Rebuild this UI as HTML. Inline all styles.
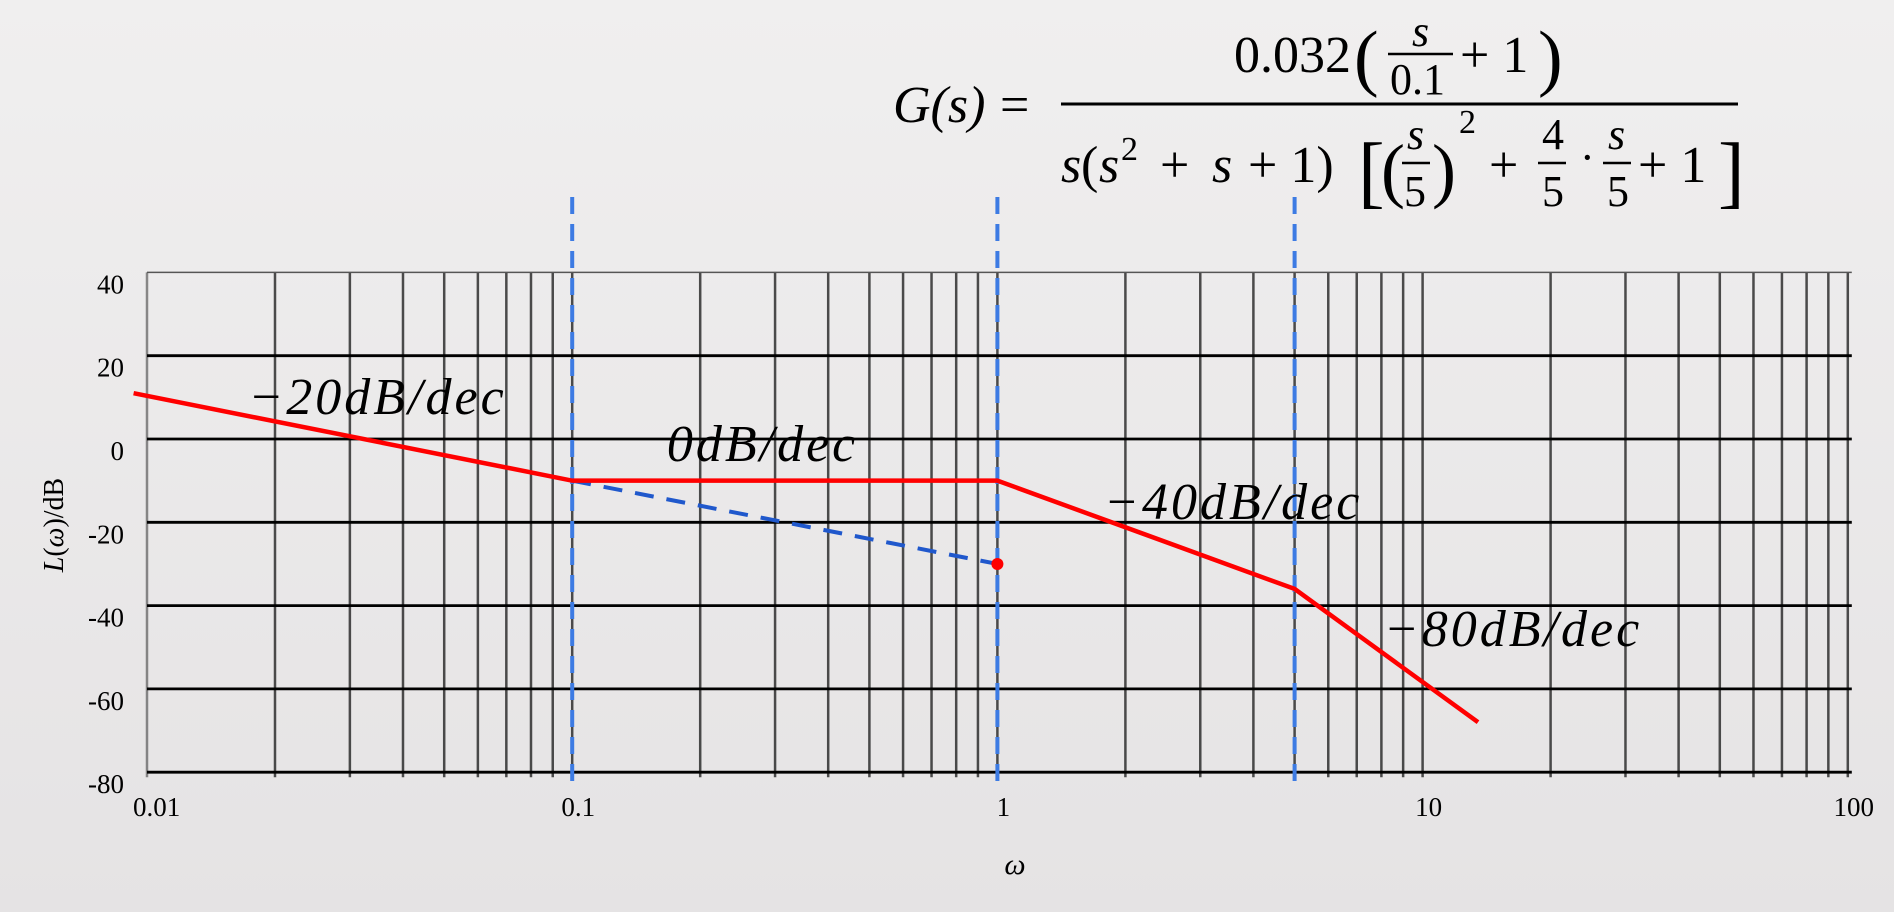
<!DOCTYPE html>
<html><head><meta charset="utf-8">
<style>
html,body{margin:0;padding:0;}
body{width:1894px;height:912px;overflow:hidden;background:linear-gradient(#f0efef,#e5e3e4);}
svg{position:absolute;left:0;top:0;}
.m{font-family:"Liberation Serif",serif;font-style:italic;fill:#000;}
.r{font-family:"Liberation Serif",serif;fill:#000;}
</style></head>
<body>
<svg id="chart" width="1894" height="912">
  <g id="formula">
    <text class="m" x="893" y="122" font-size="52">G(s)</text>
    <text class="r" x="1000" y="122" font-size="52">=</text>
    <line x1="1061" y1="104" x2="1738" y2="104" stroke="#000" stroke-width="3"/>
    <text class="r" x="1234" y="72" font-size="52">0.032</text>
    <text class="r" x="1354" y="82" font-size="74">(</text>
    <text class="m" x="1412" y="46" font-size="44">s</text>
    <line x1="1388" y1="54" x2="1453" y2="54" stroke="#000" stroke-width="2.5"/>
    <text class="r" x="1390" y="94" font-size="44">0.1</text>
    <text class="r" x="1460" y="72" font-size="52">+ 1</text>
    <text class="r" x="1538" y="82" font-size="74">)</text>
    <text class="m" x="1061" y="182" font-size="52">s</text>
    <text class="r" x="1081" y="182" font-size="52">(</text>
    <text class="m" x="1099" y="182" font-size="52">s</text>
    <text class="r" x="1121" y="160" font-size="34">2</text>
    <text class="r" x="1160" y="182" font-size="52">+</text>
    <text class="m" x="1212" y="182" font-size="52">s</text>
    <text class="r" x="1248" y="182" font-size="52">+ 1)</text>
    <text class="r" x="1358" y="198" font-size="80">[</text>
    <text class="r" x="1381" y="194" font-size="72">(</text>
    <text class="m" x="1407" y="149" font-size="44">s</text>
    <line x1="1402" y1="163" x2="1430" y2="163" stroke="#000" stroke-width="2.5"/>
    <text class="r" x="1404" y="206" font-size="44">5</text>
    <text class="r" x="1432" y="194" font-size="72">)</text>
    <text class="r" x="1459" y="133" font-size="34">2</text>
    <text class="r" x="1489" y="182" font-size="52">+</text>
    <text class="r" x="1542" y="149" font-size="44">4</text>
    <line x1="1538" y1="163" x2="1566" y2="163" stroke="#000" stroke-width="2.5"/>
    <text class="r" x="1542" y="206" font-size="44">5</text>
    <text class="r" x="1580" y="172" font-size="44">·</text>
    <text class="m" x="1608" y="149" font-size="44">s</text>
    <line x1="1603" y1="163" x2="1631" y2="163" stroke="#000" stroke-width="2.5"/>
    <text class="r" x="1607" y="206" font-size="44">5</text>
    <text class="r" x="1638" y="182" font-size="52">+ 1</text>
    <text class="r" x="1718" y="198" font-size="80">]</text>
  </g>
  <g id="grid"></g>
  <g id="marks"></g>
  <g id="labels"></g>
</svg>
<script>
const decades = [0.01, 0.1, 1, 10, 100];
const xTickLabels = ["0.01", "0.1", "1", "10", "100"];
const yTicks = [40, 20, 0, -20, -40, -60, -80];
const yTickLabels = ["40", "20", "0", "-20", "-40", "-60", "-80"];
const asymptoteW = [0.0093, 0.1, 1, 5, 13.5];
const asymptoteDB = [11, -10, -10, -36, -68];
const dashedW = [0.1, 1];
const dashedDB = [-10, -30];
const breakFreqs = [0.1, 1, 5];
const slopeLabels = ["−20dB/dec", "0dB/dec", "−40dB/dec", "−80dB/dec"];
const slopeLabelW = [0.0173, 0.167, 1.78, 8.1];
const slopeLabelDB = [6, -5.3, -19.2, -49.7];

const NS = "http://www.w3.org/2000/svg";
const X0 = 147, DEC = 425.2, Y0 = 439, PERDB = 83.3 / 20;
function xs(w){ return X0 + (Math.log10(w) + 2) * DEC; }
function ys(d){ return Y0 - d * PERDB; }
function mk(tag, attrs, parent){ const e = document.createElementNS(NS, tag); for (const k in attrs) e.setAttribute(k, attrs[k]); parent.appendChild(e); return e; }
const gridG = document.getElementById('grid'), marksG = document.getElementById('marks'), labelsG = document.getElementById('labels');
const yTop = ys(40), yBot = ys(-80);

for (let d = 0; d < decades.length - 1; d++) {
  for (let k = 1; k <= 9; k++) {
    const x = xs(decades[d] * k);
    const l = mk('line', {x1: x, y1: yTop, x2: x, y2: yBot + 5, stroke: '#222', 'stroke-width': 2.5, 'stroke-opacity': (k === 1 && d === 0) ? 0.5 : 0.8}, gridG);
    
    
  }
}
const xr = xs(100);
const lr = mk('line', {x1: xr, y1: yTop, x2: xr, y2: yBot + 5, stroke: '#222', 'stroke-width': 2.5, 'stroke-opacity': 0.8}, gridG);



yTicks.forEach((v, i) => {
  const y = ys(v);
  const l = mk('line', {x1: X0, y1: y, x2: xr + 4, y2: y, stroke: i === 0 ? '#555' : '#000', 'stroke-width': i === 0 ? 1.5 : 2.8}, gridG);
  
  
  const t = mk('text', {x: 124, y: y + 21, 'text-anchor': 'end', 'font-size': 27, 'font-family': 'Liberation Serif, serif'}, labelsG);
  t.textContent = yTickLabels[i];
  
  
});
decades.forEach((w, i) => {
  const t = mk('text', {x: i === 0 ? xs(w) - 14 : xs(w) + 6, y: yBot + 44, 'text-anchor': i === 0 ? 'start' : 'middle', 'font-size': 27, 'font-family': 'Liberation Serif, serif'}, labelsG);
  t.textContent = xTickLabels[i];
  
  
});

breakFreqs.forEach(w => {
  const x = xs(w);
  const l = mk('line', {x1: x, y1: 197, x2: x, y2: yBot + 13, stroke: '#3d7be3', 'stroke-width': 4, 'stroke-dasharray': '17 10'}, marksG);
  
  
});

const dl = mk('line', {x1: xs(dashedW[0]), y1: ys(dashedDB[0]), x2: xs(dashedW[1]), y2: ys(dashedDB[1]), stroke: '#2058cc', 'stroke-width': 4, 'stroke-dasharray': '19 13'}, marksG);



const pts = asymptoteW.map((w, i) => xs(w) + ',' + ys(asymptoteDB[i])).join(' ');
const pl = mk('polyline', {points: pts, fill: 'none', stroke: '#ff0000', 'stroke-width': 4.5}, marksG);



const dot = mk('circle', {cx: xs(dashedW[1]), cy: ys(dashedDB[1]), r: 6, fill: '#ff0000'}, marksG);



slopeLabels.forEach((s, i) => {
  const t = mk('text', {x: xs(slopeLabelW[i]), y: ys(slopeLabelDB[i]), 'font-size': 52, 'letter-spacing': 3, 'font-style': 'italic', 'font-family': 'Liberation Serif, serif'}, labelsG);
  t.textContent = s;
  
  
});

const yl = mk('text', {x: 0, y: 0, transform: 'translate(63,525) rotate(-90)', 'text-anchor': 'middle', 'font-size': 28, 'font-family': 'Liberation Serif, serif'}, labelsG);
yl.innerHTML = '<tspan font-style="italic">L</tspan>(<tspan font-style="italic">ω</tspan>)/dB';


const xl = mk('text', {x: 1015, y: 874, 'text-anchor': 'middle', 'font-size': 30, 'font-style': 'italic', 'font-family': 'Liberation Serif, serif'}, labelsG);
xl.textContent = 'ω';


</script>
</body></html>
